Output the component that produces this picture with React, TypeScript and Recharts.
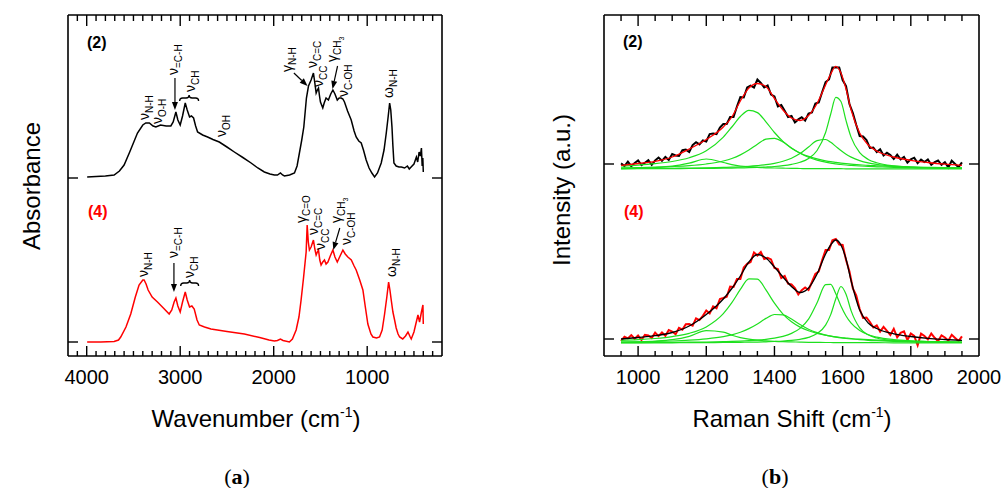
import React from "react";
import { LineChart, Line, XAxis, YAxis, ReferenceDot, ReferenceLine } from "recharts";

const FONT = "'Liberation Sans', Arial, Helvetica, sans-serif";
const GREEN = "#1ee01e";
const RED = "#ff0000";

// ---- (a) FTIR: wavenumber (cm-1) and absorbance above each trace's own baseline
const ftirWn2 = [3995, 3900, 3800, 3707, 3650, 3600, 3540, 3457, 3400, 3368, 3330, 3290, 3260, 3210, 3150, 3100, 3075, 3046, 3025, 3000, 2975, 2946, 2925, 2900, 2880, 2857, 2835, 2814, 2760, 2707, 2650, 2582, 2500, 2421, 2330, 2242, 2170, 2100, 2040, 1993, 1960, 1928, 1905, 1885, 1830, 1778, 1750, 1725, 1700, 1678, 1650, 1628, 1600, 1575, 1560, 1546, 1533, 1521, 1510, 1500, 1475, 1460, 1440, 1415, 1390, 1367, 1345, 1320, 1300, 1278, 1260, 1243, 1210, 1171, 1140, 1118, 1090, 1064, 1040, 1011, 980, 950, 921, 890, 850, 820, 796, 775, 760, 748, 735, 725, 714, 690, 660, 635, 600, 570, 550, 530, 500, 485, 474, 460, 445, 432, 420, 412, 405, 400];
const ftirAbs2 = [1, 1.5, 2, 3, 7, 13, 26, 45, 53, 55, 55, 52, 51, 53, 52, 52, 56, 66, 58, 53, 62, 75, 68, 61, 62, 60, 52, 46, 43, 41, 38.5, 36, 31, 26, 20.5, 15, 10, 6, 4, 3, 3, 5, 3, 2, 3, 5, 12, 25, 38, 51, 80, 92, 98, 105, 95, 85, 88, 90, 82, 76, 70, 75, 80, 78, 84, 88, 84, 78, 80, 80, 79, 76, 67, 58, 47, 41, 37, 35, 28, 18, 10, 5, 1, 5, 15, 28, 45, 62, 75, 68, 51, 32, 15, 12, 11, 11, 10, 12, 9, 11, 14, 18, 21, 16, 26, 22, 30, 12, 20, 6];
const ftirWn4 = [3995, 3850, 3707, 3660, 3636, 3580, 3529, 3480, 3440, 3400, 3386, 3365, 3343, 3300, 3243, 3180, 3118, 3090, 3065, 3046, 3025, 3000, 2975, 2946, 2925, 2900, 2875, 2850, 2820, 2796, 2740, 2671, 2500, 2314, 2150, 2050, 1993, 1960, 1928, 1900, 1832, 1800, 1760, 1730, 1707, 1680, 1653, 1642, 1630, 1618, 1600, 1575, 1560, 1546, 1533, 1521, 1507, 1493, 1475, 1457, 1440, 1420, 1395, 1367, 1345, 1320, 1290, 1260, 1235, 1207, 1170, 1140, 1118, 1080, 1046, 1020, 993, 960, 939, 900, 868, 840, 814, 790, 771, 757, 743, 725, 707, 690, 670, 653, 620, 590, 564, 540, 529, 500, 480, 457, 440, 420, 404, 400];
const ftirAbs4 = [0, 0, 0.5, 2, 5, 15, 28, 45, 57, 62, 62, 58, 52, 45, 40, 34, 28, 32, 40, 44, 36, 30, 40, 50, 42, 35, 36, 33, 22, 17, 15, 13, 10.5, 8, 4.5, 2, 1, 1.5, 3, 1.5, 0, 3, 12, 25, 42, 65, 90, 117, 100, 92, 95, 102, 93, 87, 90, 92, 82, 77, 80, 82, 78, 80, 86, 92, 85, 80, 86, 92, 88, 85, 82, 76, 72, 62, 52, 35, 18, 8, 5, 4, 5, 12, 28, 45, 60, 52, 42, 30, 22, 14, 8, 5, 3, 6, 10, 5, 3, 10, 18, 27, 20, 30, 37, 18];
const ftirTicks = [4100, 4000, 3900, 3800, 3700, 3600, 3500, 3400, 3300, 3200, 3100, 3000, 2900, 2800, 2700, 2600, 2500, 2400, 2300, 2200, 2100, 2000, 1900, 1800, 1700, 1600, 1500, 1400, 1300, 1200, 1100, 1000, 900, 800, 700, 600, 500, 400, 300];
const ftirMajor = [4000, 3000, 2000, 1000];

// ---- (b) Raman: fit components and envelopes on a shared shift grid
const fitShift = [950, 1000, 1050, 1100, 1150, 1200, 1250, 1275, 1300, 1325, 1350, 1375, 1400, 1425, 1450, 1475, 1500, 1525, 1550, 1565, 1580, 1595, 1610, 1625, 1650, 1675, 1700, 1750, 1800, 1850, 1900, 1950];
const fit2 = [3.6, 5.5, 7.6, 12, 20, 29.5, 42, 52, 68, 81, 85.5, 82.5, 70.5, 59, 51, 48.5, 53.5, 65.5, 84, 95, 102.6, 96, 80, 59, 36, 24, 18, 12, 8.7, 6.5, 4.8, 3.6];
const peak2a = [0.6, 0.9, 1.5, 2.8, 5.9, 10, 6.5, 4.4, 3.0, 2.2, 1.6, 1.2, 1.0, 0.8, 0.6, 0.5, 0.4, 0.4, 0.3, 0.3, 0.3, 0.3, 0.2, 0.2, 0.2, 0.2, 0.2, 0.1, 0.1, 0.1, 0.1, 0.1];
const peak2b = [3.0, 3.9, 5.3, 7.5, 11.3, 18.3, 31.9, 42.0, 52.5, 58.7, 56.4, 47.2, 36.5, 27.6, 20.8, 16.0, 12.6, 10.1, 8.2, 7.3, 6.6, 5.9, 5.3, 4.8, 4.2, 3.6, 3.2, 2.5, 2.0, 1.6, 1.4, 1.2];
const peak2c = [1.1, 1.4, 1.8, 2.4, 3.3, 5.0, 8.0, 10.5, 14.1, 18.9, 24.8, 29.8, 30.7, 26.9, 21.0, 15.7, 11.7, 8.8, 6.8, 5.9, 5.2, 4.5, 4.0, 3.6, 3.0, 2.5, 2.2, 1.6, 1.3, 1.0, 0.8, 0.7];
const peak2d = [0.4, 0.5, 0.6, 0.7, 0.9, 1.1, 1.6, 1.8, 2.2, 2.7, 3.4, 4.3, 5.7, 7.7, 10.8, 15.4, 22.0, 28.4, 29.5, 26.7, 22.6, 18.4, 14.8, 11.9, 8.4, 6.1, 4.6, 2.9, 1.9, 1.4, 1.0, 0.8];
const peak2e = [0.2, 0.3, 0.3, 0.4, 0.5, 0.6, 0.8, 0.9, 1.1, 1.3, 1.6, 2.0, 2.5, 3.3, 4.6, 6.7, 10.6, 18.5, 36.5, 55.0, 71.6, 67.5, 48.3, 31.6, 16.4, 9.6, 6.2, 3.1, 1.9, 1.3, 0.9, 0.7];
const fit4 = [4, 5.5, 7.3, 10.5, 17, 28.5, 44, 54.5, 67, 81, 88.5, 85, 76, 66, 56.5, 50.5, 55, 69, 89, 98, 103, 98, 84, 62, 33, 20, 14.5, 9.2, 6.5, 4.6, 3.5, 2.7];
const peak4a = [0.8, 1.2, 1.9, 3.3, 6.7, 12.4, 10.9, 7.8, 5.4, 3.8, 2.8, 2.1, 1.6, 1.3, 1.1, 0.9, 0.7, 0.6, 0.5, 0.5, 0.4, 0.4, 0.4, 0.3, 0.3, 0.3, 0.3, 0.2, 0.2, 0.2, 0.1, 0.1];
const peak4b = [2.6, 3.3, 4.5, 6.4, 9.7, 16.1, 29.3, 40.3, 53.6, 64.2, 63.9, 53.1, 39.8, 28.9, 21.2, 15.9, 12.2, 9.6, 7.8, 6.9, 6.1, 5.5, 5.0, 4.5, 3.8, 3.3, 2.9, 2.3, 1.8, 1.5, 1.2, 1.0];
const peak4c = [1.0, 1.2, 1.5, 2.0, 2.8, 4.1, 6.3, 8.1, 10.7, 14.4, 19.1, 24.6, 28.5, 28.2, 24.0, 18.5, 13.8, 10.4, 7.9, 6.8, 5.9, 5.1, 4.5, 4.0, 3.3, 2.7, 2.3, 1.7, 1.3, 1.0, 0.9, 0.7];
const peak4d = [0.4, 0.4, 0.5, 0.6, 0.8, 1.0, 1.4, 1.6, 1.9, 2.3, 2.9, 3.7, 4.9, 6.7, 9.6, 14.6, 23.8, 40.2, 58.3, 58.7, 49.2, 37.0, 27.0, 19.8, 12.4, 8.3, 5.9, 3.4, 2.2, 1.5, 1.1, 0.9];
const peak4e = [0.1, 0.2, 0.2, 0.2, 0.3, 0.4, 0.5, 0.6, 0.7, 0.8, 0.9, 1.2, 1.5, 1.9, 2.6, 3.7, 5.6, 9.4, 17.9, 28.4, 44.2, 56.5, 48.7, 32.1, 15.2, 8.2, 5.0, 2.4, 1.4, 0.9, 0.6, 0.5];

// measured (noisy) Raman spectra
const rawShift = [950, 960, 970, 980, 990, 1000, 1010, 1020, 1030, 1040, 1050, 1060, 1070, 1080, 1090, 1100, 1110, 1120, 1130, 1140, 1150, 1160, 1170, 1180, 1190, 1200, 1210, 1220, 1230, 1240, 1250, 1260, 1270, 1280, 1290, 1300, 1310, 1320, 1330, 1340, 1350, 1360, 1370, 1380, 1390, 1400, 1410, 1420, 1430, 1440, 1450, 1460, 1470, 1480, 1490, 1500, 1510, 1520, 1530, 1540, 1550, 1560, 1570, 1580, 1590, 1600, 1610, 1620, 1630, 1640, 1650, 1660, 1670, 1680, 1690, 1700, 1710, 1720, 1730, 1740, 1750, 1760, 1770, 1780, 1790, 1800, 1810, 1820, 1830, 1840, 1850, 1860, 1870, 1880, 1890, 1900, 1910, 1920, 1930, 1940, 1950];
const raw2 = [5.6, 3.0, 7.4, 2.8, 6.1, 8.5, 3.9, 6.3, 8.8, 4.2, 8.6, 11.4, 8.2, 12.1, 9.0, 15.0, 13.5, 13.0, 18.8, 19.4, 17.0, 23.9, 26.8, 24.6, 28.5, 27.5, 34.9, 35.4, 34.9, 41.4, 45.0, 45.0, 52.0, 52.0, 62.5, 72.0, 71.5, 81.5, 83.3, 81.5, 89.5, 86.0, 81.5, 83.5, 74.5, 72.5, 62.5, 64.0, 58.3, 52.0, 53.0, 46.5, 49.6, 51.8, 48.5, 55.5, 56.5, 65.5, 66.5, 77.0, 87.0, 89.5, 101.5, 101.6, 101.5, 89.0, 83.0, 65.0, 56.0, 44.0, 33.0, 32.5, 29.0, 21.0, 21.5, 17.0, 19.8, 13.5, 16.2, 14.0, 10.0, 14.3, 9.6, 12.0, 6.3, 9.7, 11.3, 5.9, 9.4, 7.0, 9.5, 4.2, 6.8, 8.5, 4.1, 6.8, 1.6, 8.3, 5.1, 1.8, 6.6];
const raw4 = [2.0, 6.3, 4.6, 7.9, 4.2, 7.5, 2.9, 8.2, 7.6, 4.9, 10.3, 6.9, 10.6, 7.2, 12.9, 11.5, 8.8, 15.1, 13.4, 18.7, 19.0, 17.3, 24.6, 22.9, 27.2, 32.5, 29.6, 36.7, 34.8, 43.9, 45.0, 46.2, 56.4, 56.0, 64.0, 64.0, 75.6, 79.2, 81.0, 90.5, 87.5, 91.0, 84.0, 85.2, 83.6, 75.0, 74.0, 65.0, 67.1, 59.3, 58.5, 55.0, 48.5, 52.8, 55.5, 53.0, 61.0, 69.0, 71.5, 83.0, 93.0, 93.0, 102.7, 104.0, 98.5, 98.0, 83.0, 71.5, 54.5, 47.5, 34.0, 25.0, 25.5, 21.0, 15.5, 17.5, 11.4, 16.1, 12.1, 8.1, 14.2, 5.7, 10.1, 11.6, 3.0, 9.5, 7.1, -2.3, 9.4, 7.0, 3.6, 9.4, 5.2, 1.9, 7.7, 5.5, 2.3, 8.2, 5.0, 1.9, 6.7];
const ramanTicks = [950, 1000, 1050, 1100, 1150, 1200, 1250, 1300, 1350, 1400, 1450, 1500, 1550, 1600, 1650, 1700, 1750, 1800, 1850, 1900, 1950];
const ramanMajor = [1000, 1200, 1400, 1600, 1800, 2000];

// vertical stacking of the two samples in each panel (y runs 0..341)
const Y_TOP = 341;
const FTIR_BASE2 = 178;
const FTIR_BASE4 = 14;
const RAMAN_BASE2 = 187;
const RAMAN_BASE4 = 13;
const RAMAN_TICK2 = 192;
const RAMAN_TICK4 = 17;

// band assignments (position of label start, in chart units)
type Note = { x: number; y: number; g: string; sub: string; sub2?: string };
const notes2: Note[] = [
  { x: 3332, y: 236, g: "ν", sub: "N-H" },
  { x: 3191, y: 232, g: "ν", sub: "O-H" },
  { x: 3027, y: 281, g: "ν", sub: "=C-H" },
  { x: 2846, y: 264, g: "ν", sub: "CH" },
  { x: 2514, y: 219, g: "ν", sub: "OH" },
  { x: 1809, y: 284, g: "γ", sub: "N-H" },
  { x: 1542, y: 288, g: "ν", sub: "C=C" },
  { x: 1478, y: 269, g: "ν", sub: "CC" },
  { x: 1328, y: 294, g: "γ", sub: "CH", sub2: "3" },
  { x: 1210, y: 259, g: "ν", sub: "C-OH" },
  { x: 719, y: 258, g: "ω", sub: "N-H" },
];
const notes4: Note[] = [
  { x: 3348, y: 79, g: "ν", sub: "N-H" },
  { x: 3027, y: 98, g: "ν", sub: "=C-H" },
  { x: 2851, y: 78, g: "ν", sub: "CH" },
  { x: 1659, y: 133, g: "γ", sub: "C=O" },
  { x: 1531, y: 121, g: "ν", sub: "C=C" },
  { x: 1446, y: 106, g: "ν", sub: "CC" },
  { x: 1285, y: 133, g: "γ", sub: "CH", sub2: "3" },
  { x: 1178, y: 111, g: "ν", sub: "C-OH" },
  { x: 697, y: 79, g: "ω", sub: "N-H" },
];
const arrows = [
  [{ x: 3056, y: 278 }, { x: 3056, y: 246 }],
  [{ x: 1784, y: 283 }, { x: 1638, y: 270 }],
  [{ x: 1317, y: 290 }, { x: 1371, y: 267 }],
  [{ x: 3067, y: 93 }, { x: 3067, y: 64 }],
  [{ x: 1293, y: 128 }, { x: 1363, y: 106 }],
];
const braces = [
  [{ x: 3006, y: 258 }, { x: 2803, y: 258 }],
  [{ x: 2995, y: 73 }, { x: 2803, y: 73 }],
];

const rows = (xs: number[], ys: number[], base: number) => xs.map((x, i) => ({ x, y: ys[i] + base }));

// plot boxes (page pixels) shared by the charts' margins and the frame-tick overlay
const FTIR_BOX = { left: 68, right: 442, top: 15, bottom: 356, d0: 4200, d1: 200 };
const RAMAN_BOX = { left: 604, right: 979, top: 15, bottom: 356, d0: 900, d1: 2000 };

const xLabel = (major: number[]) => (p: any) => {
  const v = p.payload.value;
  if (!major.includes(v)) return <g />;
  return (
    <text x={p.x} y={p.y + 28} textAnchor="middle" fontSize={20} fontFamily={FONT} fill="#000">
      {v}
    </text>
  );
};

const NoteText = ({ cx, cy, n }: { cx: number; cy: number; n: Note }) => (
  <text transform={`rotate(-90 ${cx} ${cy})`} x={cx} y={cy} fontSize={14} fontFamily={FONT} fill="#000">
    {n.g}
    <tspan dy={4} fontSize={10}>{n.sub}</tspan>
    {n.sub2 ? <tspan dy={3} fontSize={7}>{n.sub2}</tspan> : null}
  </text>
);

const ArrowShape = (p: any) => {
  const { x1, y1, x2, y2 } = p;
  const dx = x2 - x1;
  const dy = y2 - y1;
  const len = Math.hypot(dx, dy) || 1;
  const ux = dx / len;
  const uy = dy / len;
  const bx = x2 - ux * 8;
  const by = y2 - uy * 8;
  return (
    <g>
      <line x1={x1} y1={y1} x2={bx} y2={by} stroke="#000" strokeWidth={1.2} />
      <polygon points={`${x2},${y2} ${bx - uy * 3},${by + ux * 3} ${bx + uy * 3},${by - ux * 3}`} fill="#000" />
    </g>
  );
};

const BraceShape = (p: any) => {
  const l = Math.min(p.x1, p.x2);
  const r = Math.max(p.x1, p.x2);
  const m = (l + r) / 2;
  const y = p.y1;
  const d = `M${l} ${y + 3} Q${l} ${y} ${l + 3} ${y} L${m - 3} ${y} Q${m} ${y} ${m} ${y - 3} Q${m} ${y} ${m + 3} ${y} L${r - 3} ${y} Q${r} ${y} ${r} ${y + 3}`;
  return <path d={d} fill="none" stroke="#000" strokeWidth={1.3} />;
};

const frame = { stroke: "#000", strokeWidth: 1.6 };

function baseMarks(dir: number) {
  return (p: any) => <line x1={p.x} x2={p.x + dir * 10} y1={p.y} y2={p.y} stroke="#000" strokeWidth={1.4} />;
}

// inward tick marks on top and bottom frame edges
function FrameTicks({ box, ticks, major }: { box: typeof FTIR_BOX; ticks: number[]; major: number[] }) {
  const px = (t: number) => box.left + ((t - box.d0) / (box.d1 - box.d0)) * (box.right - box.left);
  let d = "";
  ticks.forEach((t) => {
    const big = major.includes(t);
    const x = px(t);
    d += `M${x} ${box.bottom}V${box.bottom - (big ? 10 : 5)}M${x} ${box.top}V${box.top + (big ? 11 : 6)}`;
  });
  return <path d={d} stroke="#000" strokeWidth={1.4} fill="none" />;
}

// axes are 1px thick so that Recharts still draws them; margins compensate
function FtirPanel() {
  return (
    <LineChart width={500} height={488} margin={{ top: 14, right: 57, bottom: 131, left: 67 }}>
      <XAxis xAxisId="b" type="number" dataKey="x" domain={[200, 4200]} reversed ticks={ftirTicks} interval={0}
        height={1} tickSize={0} tickMargin={0} tickLine={false} axisLine={frame} tick={xLabel(ftirMajor)} allowDataOverflow />
      <XAxis xAxisId="t" orientation="top" type="number" dataKey="x" domain={[200, 4200]} reversed ticks={ftirTicks} interval={0}
        height={1} tickSize={0} tickMargin={0} tickLine={false} axisLine={frame} tick={false} allowDataOverflow />
      <YAxis yAxisId="l" type="number" domain={[0, Y_TOP]} ticks={[FTIR_BASE2, FTIR_BASE4]} interval={0}
        width={1} tickSize={0} tickMargin={0} tickLine={false} axisLine={frame} tick={baseMarks(1)} allowDataOverflow />
      <YAxis yAxisId="r" orientation="right" type="number" domain={[0, Y_TOP]} ticks={[FTIR_BASE2, FTIR_BASE4]} interval={0}
        width={1} tickSize={0} tickMargin={0} tickLine={false} axisLine={frame} tick={baseMarks(-1)} allowDataOverflow />
      <Line xAxisId="b" yAxisId="l" data={rows(ftirWn2, ftirAbs2, FTIR_BASE2)} dataKey="y" type="linear"
        stroke="#000" strokeWidth={1.5} dot={false} isAnimationActive={false} />
      <Line xAxisId="b" yAxisId="l" data={rows(ftirWn4, ftirAbs4, FTIR_BASE4)} dataKey="y" type="linear"
        stroke={RED} strokeWidth={1.5} dot={false} isAnimationActive={false} />
      {[...notes2, ...notes4].map((n, i) => (
        <ReferenceDot key={"n" + i} xAxisId="b" yAxisId="l" x={n.x} y={n.y} r={0}
          shape={(p: any) => <NoteText cx={p.cx} cy={p.cy} n={n} />} />
      ))}
      {arrows.map((s, i) => (
        <ReferenceLine key={"a" + i} xAxisId="b" yAxisId="l" segment={s} shape={ArrowShape} />
      ))}
      {braces.map((s, i) => (
        <ReferenceLine key={"br" + i} xAxisId="b" yAxisId="l" segment={s} shape={BraceShape} />
      ))}
    </LineChart>
  );
}

function RamanPanel() {
  const comps2 = [peak2a, peak2b, peak2c, peak2d, peak2e];
  const comps4 = [peak4a, peak4b, peak4c, peak4d, peak4e];
  const labelTicks = [...ramanTicks, 2000];
  return (
    <LineChart width={501} height={488} margin={{ top: 14, right: 21, bottom: 131, left: 103 }}>
      <XAxis xAxisId="b" type="number" dataKey="x" domain={[900, 2000]} ticks={labelTicks} interval={0}
        height={1} tickSize={0} tickMargin={0} tickLine={false} axisLine={frame} tick={xLabel(ramanMajor)} allowDataOverflow />
      <XAxis xAxisId="t" orientation="top" type="number" dataKey="x" domain={[900, 2000]} ticks={labelTicks} interval={0}
        height={1} tickSize={0} tickMargin={0} tickLine={false} axisLine={frame} tick={false} allowDataOverflow />
      <YAxis yAxisId="l" type="number" domain={[0, Y_TOP]} ticks={[RAMAN_TICK2, RAMAN_TICK4]} interval={0}
        width={1} tickSize={0} tickMargin={0} tickLine={false} axisLine={frame} tick={baseMarks(1)} allowDataOverflow />
      <YAxis yAxisId="r" orientation="right" type="number" domain={[0, Y_TOP]} ticks={[RAMAN_TICK2, RAMAN_TICK4]} interval={0}
        width={1} tickSize={0} tickMargin={0} tickLine={false} axisLine={frame} tick={baseMarks(-1)} allowDataOverflow />
      <Line xAxisId="b" yAxisId="l" data={rows(rawShift, raw2, RAMAN_BASE2)} dataKey="y" type="linear"
        stroke="#000" strokeWidth={2} dot={false} isAnimationActive={false} />
      {comps2.map((c, i) => (
        <Line key={"c2" + i} xAxisId="b" yAxisId="l" data={rows(fitShift, c, RAMAN_BASE2)} dataKey="y" type="monotone"
          stroke={GREEN} strokeWidth={1.2} dot={false} isAnimationActive={false} />
      ))}
      <Line xAxisId="b" yAxisId="l" data={rows(fitShift, fit2, RAMAN_BASE2)} dataKey="y" type="monotone"
        stroke={RED} strokeWidth={1.3} dot={false} isAnimationActive={false} />
      <Line xAxisId="b" yAxisId="l" data={rows(rawShift, raw4, RAMAN_BASE4)} dataKey="y" type="linear"
        stroke={RED} strokeWidth={2} dot={false} isAnimationActive={false} />
      {comps4.map((c, i) => (
        <Line key={"c4" + i} xAxisId="b" yAxisId="l" data={rows(fitShift, c, RAMAN_BASE4)} dataKey="y" type="monotone"
          stroke={GREEN} strokeWidth={1.2} dot={false} isAnimationActive={false} />
      ))}
      <Line xAxisId="b" yAxisId="l" data={rows(fitShift, fit4, RAMAN_BASE4)} dataKey="y" type="monotone"
        stroke="#000" strokeWidth={1.3} dot={false} isAnimationActive={false} />
    </LineChart>
  );
}

export default function App() {
  return (
    <div style={{ position: "absolute", left: 0, top: 0, width: 1001, height: 488, background: "#fff" }}>
      <div style={{ position: "absolute", left: 0, top: 0 }}>
        <FtirPanel />
      </div>
      <div style={{ position: "absolute", left: 500, top: 0 }}>
        <RamanPanel />
      </div>
      <svg width={1001} height={488} style={{ position: "absolute", left: 0, top: 0, pointerEvents: "none" }}>
        <FrameTicks box={FTIR_BOX} ticks={ftirTicks} major={ftirMajor} />
        <FrameTicks box={RAMAN_BOX} ticks={ramanTicks} major={ramanMajor} />
        <g fontFamily={FONT}>
          <text x={87} y={48} fontSize={16} fontWeight="bold" fill="#000">(2)</text>
          <text x={88} y={217} fontSize={16} fontWeight="bold" fill={RED}>(4)</text>
          <text x={623} y={47} fontSize={16} fontWeight="bold" fill="#000">(2)</text>
          <text x={624} y={217} fontSize={16} fontWeight="bold" fill={RED}>(4)</text>
          <text transform="rotate(-90 40 186)" x={40} y={186} fontSize={24} textAnchor="middle" fill="#000">Absorbance</text>
          <text transform="rotate(-90 570 190)" x={570} y={190} fontSize={24} textAnchor="middle" fill="#000">Intensity (a.u.)</text>
          <text x={256} y={427} fontSize={24} textAnchor="middle" fill="#000">
            Wavenumber (cm<tspan dy={-10} fontSize={14}>-1</tspan><tspan dy={10}>)</tspan>
          </text>
          <text x={792} y={427} fontSize={24} textAnchor="middle" fill="#000">
            Raman Shift (cm<tspan dy={-10} fontSize={14}>-1</tspan><tspan dy={10}>)</tspan>
          </text>
        </g>
        <g fontFamily="'Liberation Serif', 'DejaVu Serif', serif" fontSize={22} fill="#000">
          <text x={237} y={484} textAnchor="middle">(<tspan fontWeight="bold">a</tspan>)</text>
          <text x={775} y={484} textAnchor="middle">(<tspan fontWeight="bold">b</tspan>)</text>
        </g>
      </svg>
    </div>
  );
}
